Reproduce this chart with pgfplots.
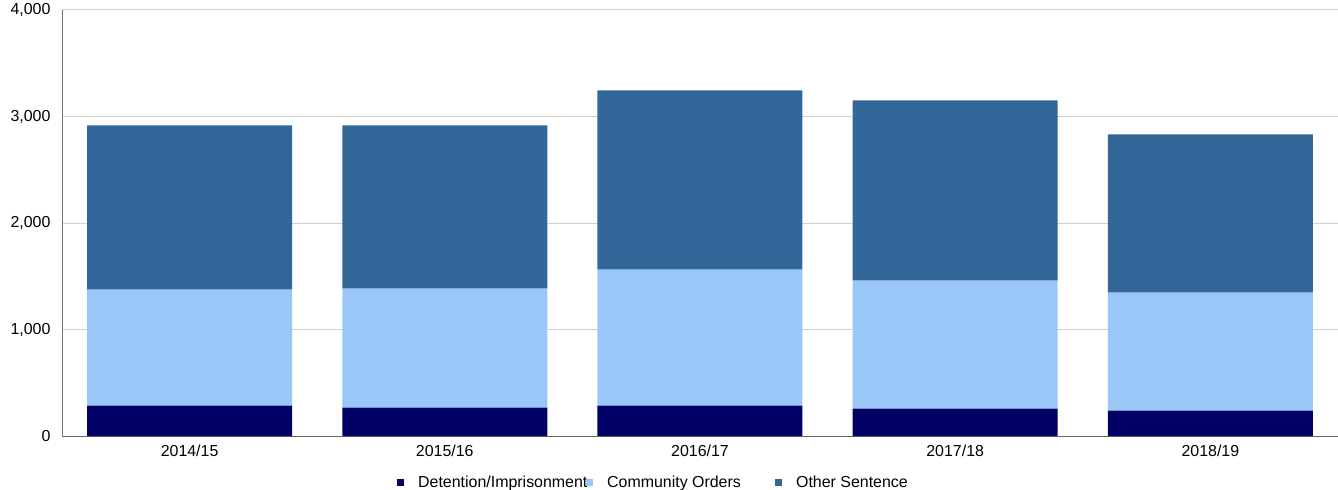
\documentclass[border=0pt]{standalone}
\usepackage{fontspec}
\setmainfont{Liberation Sans}
\usepackage{pgfplots}
\pgfplotsset{compat=1.18}
\definecolor{cdet}{HTML}{000066}
\definecolor{ccom}{HTML}{99C7F7}
\definecolor{coth}{HTML}{336699}
\definecolor{cgrid}{HTML}{D0D0D0}

\pgfplotstableread{
x det com oth
0 286 1089 1541
1 266 1118 1532
2 285 1278 1682
3 257 1203 1691
4 238 1109 1485
}\datatable

\begin{document}
\begin{tikzpicture}
\begin{axis}[
  at={(0,0)}, anchor=south west,
  scale only axis, width=1276bp, height=426bp,
  xmin=-0.5, xmax=4.5, ymin=0, ymax=4000,
  ybar stacked, bar width=205bp,
  xtick={0,1,2,3,4},
  xticklabels={2014/15,2015/16,2016/17,2017/18,2018/19},
  ytick={0,1000,2000,3000,4000},
  yticklabel style={/pgf/number format/1000 sep={,}, /pgf/number format/assume math mode=true, xshift=-8bp},
  xticklabel style={yshift=-5bp},
  tick label style={font=\fontsize{16}{18}\selectfont},
  major tick length=0pt,
  axis x line*=bottom, axis y line*=left,
  x axis line style={draw=black!60, line width=1bp},
  y axis line style={draw=black!55, line width=1bp},
  ymajorgrids, grid style={cgrid, line width=1bp},
  legend columns=3,
  legend style={at={(0.2602,-0.110)}, anchor=west, draw=none, fill=none,
    font=\fontsize{16}{18}\selectfont,
    /tikz/every odd column/.append style={column sep=12bp}},
  legend image code/.code={\fill[#1] (0bp,-3.5bp) rectangle (7bp,3.5bp);},
]
\addplot[fill=cdet, draw=none] table[x=x, y=det] {\datatable};
\addplot[fill=ccom, draw=none] table[x=x, y=com] {\datatable};
\addplot[fill=coth, draw=none] table[x=x, y=oth] {\datatable};
\addlegendentry{\makebox[166bp][l]{Detention/Imprisonment}}
\addlegendentry{\makebox[166bp][l]{Community Orders}}
\addlegendentry{Other Sentence}
\end{axis}
\pgfresetboundingbox
\path (-62bp,-54bp) rectangle (1276bp,436bp);
\end{tikzpicture}
\end{document}
